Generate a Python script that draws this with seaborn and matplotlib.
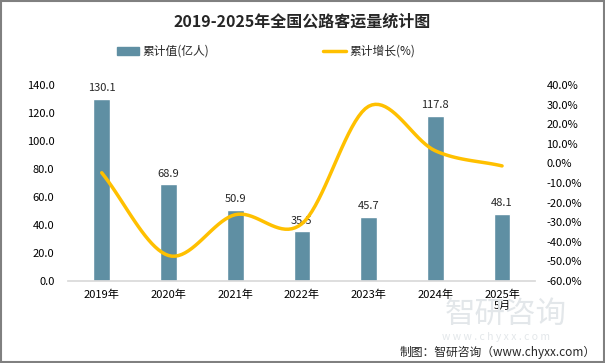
import matplotlib
matplotlib.use("Agg")
import matplotlib.pyplot as plt
import seaborn as sns
import numpy as np
import pandas as pd
from matplotlib.ticker import FuncFormatter

years = ["2019年", "2020年", "2021年", "2022年", "2023年", "2024年", "2025年\n5月"]
volume = [130.1, 68.9, 50.9, 35.5, 45.7, 117.8, 48.1]
growth = [-4.8, -47.0, -26.2, -30.8, 29.1, 6.4, -1.3]

sns.set_theme(style="white")
plt.rcParams["font.family"] = ["Noto Sans CJK SC", "DejaVu Sans"]

bar_color = "#5f8fa3"
line_color = "#FFC000"


def smooth(xs, ys, n=20):
    # Catmull-Rom style smoothing, similar to Excel's smoothed line
    xs = np.asarray(xs, float)
    ys = np.asarray(ys, float)
    px = np.concatenate([[2 * xs[0] - xs[1]], xs, [2 * xs[-1] - xs[-2]]])
    py = np.concatenate([[2 * ys[0] - ys[1]], ys, [2 * ys[-1] - ys[-2]]])
    ox, oy = [], []
    t = np.linspace(0, 1, n, endpoint=False)
    for i in range(1, len(px) - 2):
        for arr, out in ((px, ox), (py, oy)):
            p0, p1, p2, p3 = arr[i - 1], arr[i], arr[i + 1], arr[i + 2]
            out.extend(0.5 * ((2 * p1) + (-p0 + p2) * t
                              + (2 * p0 - 5 * p1 + 4 * p2 - p3) * t ** 2
                              + (-p0 + 3 * p1 - 3 * p2 + p3) * t ** 3))
    ox.append(xs[-1])
    oy.append(ys[-1])
    return np.array(ox), np.array(oy)


df = pd.DataFrame({"year": years, "volume": volume, "growth": growth})

fig = plt.figure(figsize=(6.05, 3.63), dpi=100)

# watermark (drawn first so it sits behind everything)
fig.text(0.735, 0.135, "智研咨询", fontsize=22, color="#e3e7ea", va="center")
fig.text(0.73, 0.072, "w w w . c h y x x . c o m", fontsize=7.5, color="#e3e7ea",
         va="center")

ax = fig.add_axes([0.113, 0.226, 0.772, 0.54])
ax.patch.set_alpha(0)
sns.barplot(data=df, x="year", y="volume", color=bar_color, width=0.25,
            saturation=1, ax=ax)
ax.set_xlim(-0.5, len(years) - 0.5)
ax.set_ylim(0, 140)
ax.set_yticks(np.arange(0, 141, 20))
ax.yaxis.set_major_formatter(FuncFormatter(lambda v, p: f"{v:.1f}"))
ax.set_xlabel("")
ax.set_ylabel("")
for s in ["top", "right", "left"]:
    ax.spines[s].set_visible(False)
ax.spines["bottom"].set_color("#d9d9d9")
ax.tick_params(axis="both", length=0, labelsize=8, colors="black", pad=6)
ax.tick_params(axis="y", pad=10)
for i, v in enumerate(volume):
    ax.text(i, v + 4, f"{v:.1f}", ha="center", va="bottom", fontsize=8)

ax2 = ax.twinx()
sx, sy = smooth(range(len(growth)), growth)
ax2.plot(sx, sy, color=line_color, lw=2.5, solid_capstyle="round")
ax2.set_ylim(-60, 40)
ax2.set_yticks(np.arange(-60, 41, 10))
ax2.yaxis.set_major_formatter(FuncFormatter(lambda v, p: f"{v:.1f}%"))
for s in ["top", "right", "left", "bottom"]:
    ax2.spines[s].set_visible(False)
ax2.tick_params(axis="y", length=0, labelsize=8, colors="black", pad=8)
ax2.set_xlim(-0.5, len(years) - 0.5)

fig.text(0.5, 0.94, "2019-2025年全国公路客运量统计图", ha="center", va="center",
         fontsize=11.5, fontweight="bold")
fig.patches.append(plt.Rectangle((0.193, 0.848), 0.036, 0.022, color=bar_color,
                                 transform=fig.transFigure))
fig.text(0.235, 0.859, "累计值(亿人)", va="center", fontsize=8.5)
fig.lines.append(plt.Line2D([0.534, 0.572], [0.859, 0.859], color=line_color,
                            lw=2.5, transform=fig.transFigure))
fig.text(0.578, 0.859, "累计增长(%)", va="center", fontsize=8.5)

fig.text(0.985, 0.03, "制图：智研咨询（www.chyxx.com）", ha="right", va="center",
         fontsize=8.5)

fig.patches.append(plt.Rectangle((0.001, 0.002), 0.997, 0.995, fill=False,
                                 edgecolor="#808080", lw=1.5,
                                 transform=fig.transFigure))

fig.savefig("out.png", dpi=100)
